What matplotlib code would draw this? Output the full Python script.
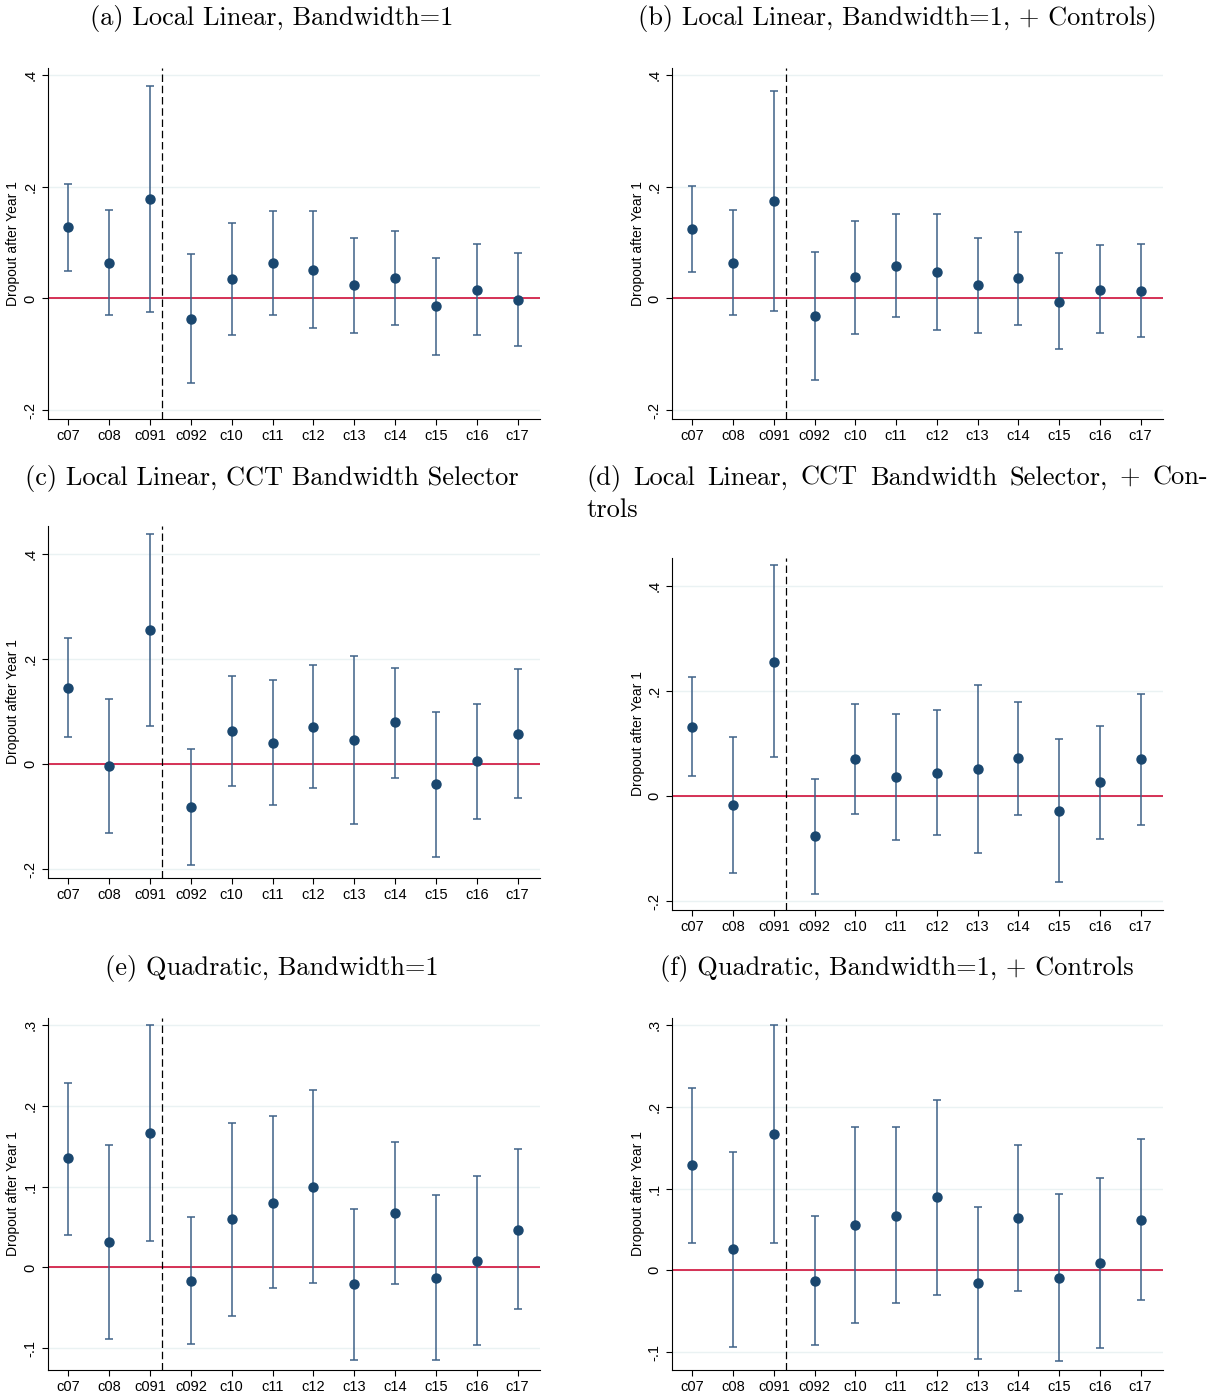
import matplotlib
matplotlib.use("Agg")
from matplotlib import pyplot as plt

plt.rcParams["font.family"] = "Liberation Sans"

cohorts = ["c07", "c08", "c091", "c092", "c10", "c11", "c12", "c13", "c14", "c15", "c16", "c17"]

# (a) Local Linear, Bandwidth=1
est_a = [0.128, 0.064, 0.178, -0.036, 0.034, 0.063, 0.051, 0.024, 0.036, -0.014, 0.016, -0.002]
lo_a = [0.050, -0.030, -0.025, -0.152, -0.066, -0.030, -0.053, -0.062, -0.047, -0.101, -0.066, -0.086]
hi_a = [0.206, 0.159, 0.381, 0.080, 0.136, 0.157, 0.156, 0.109, 0.121, 0.073, 0.097, 0.082]

# (b) Local Linear, Bandwidth=1, + Controls
est_b = [0.125, 0.064, 0.174, -0.031, 0.038, 0.059, 0.048, 0.024, 0.036, -0.006, 0.016, 0.014]
lo_b = [0.047, -0.030, -0.023, -0.146, -0.063, -0.033, -0.057, -0.061, -0.048, -0.091, -0.062, -0.069]
hi_b = [0.202, 0.158, 0.371, 0.084, 0.138, 0.152, 0.152, 0.109, 0.120, 0.081, 0.096, 0.097]

# (c) Local Linear, CCT Bandwidth Selector
est_c = [0.145, -0.004, 0.255, -0.082, 0.063, 0.040, 0.071, 0.045, 0.079, -0.039, 0.005, 0.058]
lo_c = [0.052, -0.131, 0.072, -0.193, -0.041, -0.079, -0.045, -0.114, -0.026, -0.177, -0.104, -0.065]
hi_c = [0.239, 0.124, 0.438, 0.028, 0.168, 0.159, 0.189, 0.205, 0.183, 0.099, 0.114, 0.181]

# (d) Local Linear, CCT Bandwidth Selector, + Controls
est_d = [0.131, -0.017, 0.255, -0.077, 0.070, 0.037, 0.044, 0.051, 0.072, -0.028, 0.026, 0.070]
lo_d = [0.038, -0.146, 0.074, -0.187, -0.034, -0.083, -0.074, -0.109, -0.036, -0.164, -0.082, -0.055]
hi_d = [0.226, 0.113, 0.439, 0.032, 0.175, 0.157, 0.163, 0.211, 0.179, 0.109, 0.134, 0.194]

# (e) Quadratic, Bandwidth=1
est_e = [0.135, 0.032, 0.166, -0.017, 0.060, 0.080, 0.100, -0.021, 0.067, -0.013, 0.008, 0.047]
lo_e = [0.040, -0.088, 0.033, -0.095, -0.060, -0.026, -0.019, -0.115, -0.021, -0.115, -0.096, -0.052]
hi_e = [0.229, 0.152, 0.300, 0.062, 0.179, 0.188, 0.220, 0.072, 0.155, 0.090, 0.113, 0.147]

# (f) Quadratic, Bandwidth=1, + Controls
est_f = [0.129, 0.026, 0.167, -0.013, 0.056, 0.067, 0.090, -0.016, 0.064, -0.009, 0.009, 0.062]
lo_f = [0.034, -0.094, 0.033, -0.091, -0.064, -0.040, -0.030, -0.109, -0.025, -0.111, -0.095, -0.036]
hi_f = [0.223, 0.145, 0.301, 0.066, 0.176, 0.175, 0.209, 0.078, 0.153, 0.093, 0.113, 0.161]

titles = ["(a) Local Linear, Bandwidth=1",
          "(b) Local Linear, Bandwidth=1, + Controls)",
          "(c) Local Linear, CCT Bandwidth Selector",
          "(d) Local Linear, CCT Bandwidth Selector, + Con-",
          "(e) Quadratic, Bandwidth=1",
          "(f) Quadratic, Bandwidth=1, + Controls"]

yticks_lin = [-0.2, 0, 0.2, 0.4]
ylabels_lin = ["-.2", "0", ".2", ".4"]
yticks_quad = [-0.1, 0, 0.1, 0.2, 0.3]
ylabels_quad = ["-.1", "0", ".1", ".2", ".3"]

W, H = 1220, 1393
fig = plt.figure(figsize=(W / 100, H / 100), dpi=100)
TFS = 19

# axes boxes in pixels: left, top, right, bottom
boxes = [(48, 68, 540, 419), (672, 68, 1163, 419),
         (48, 526, 540, 878), (672, 558, 1163, 910),
         (48, 1018, 540, 1370), (672, 1018, 1163, 1370)]
ylims = [(-0.216, 0.413), (-0.216, 0.413),
         (-0.217, 0.453), (-0.217, 0.453),
         (-0.127, 0.309), (-0.122, 0.309)]
title_pos = [(272, 19), (897, 19), (272, 478), (586, 478), (272, 969), (897, 969)]

panels = [(est_a, lo_a, hi_a), (est_b, lo_b, hi_b), (est_c, lo_c, hi_c),
          (est_d, lo_d, hi_d), (est_e, lo_e, hi_e), (est_f, lo_f, hi_f)]

navy = "#1a476f"
bar_col = "#3e6288"
x = list(range(1, len(cohorts) + 1))

for i, (est, lo, hi) in enumerate(panels):
    l, t, r, b = boxes[i]
    ax = fig.add_axes([l / W, 1 - b / H, (r - l) / W, (b - t) / H])
    err = [[e - lo_ for e, lo_ in zip(est, lo)], [h - e for e, h in zip(est, hi)]]
    ax.errorbar(x, est, yerr=err, fmt="none", ecolor=bar_col, elinewidth=1.1,
                capsize=2.6, capthick=1.1, zorder=3)
    ax.plot(x, est, "o", color=navy, ms=6.5, zorder=4)
    ax.axhline(0, color="#d0103a", lw=1.2, zorder=2)
    ax.axvline(3.3, color="black", lw=0.9, ls=(0, (6, 3)), zorder=2)
    ax.set_xlim(0.5, 12.55)
    ax.set_ylim(*ylims[i])
    if i < 4:
        ax.set_yticks(yticks_lin, ylabels_lin)
    else:
        ax.set_yticks(yticks_quad, ylabels_quad)
    ax.set_xticks(x, cohorts)
    ax.tick_params(axis="y", labelrotation=90, labelsize=10.5, length=4, width=0.8)
    ax.tick_params(axis="x", labelsize=10.5, length=4, width=0.8)
    for lab in ax.get_yticklabels():
        lab.set_va("center")
    ax.grid(axis="y", color="#eaf2f3", lw=1.0, zorder=0)
    ax.spines["top"].set_visible(False)
    ax.spines["right"].set_visible(False)
    ax.set_ylabel("Dropout after Year 1", fontsize=10)
    ax.yaxis.set_label_coords(-0.056, 0.5)

    tx, ty = title_pos[i]
    if i == 3:
        # justified first line, spread words across the column width
        words = titles[i].split(" ")
        x0, x1 = 586, 1208
        fig.canvas.draw()
        rend = fig.canvas.get_renderer()
        objs = [fig.text(0, 1 - ty / H, w, family="cmr10", fontsize=TFS,
                         ha="left", va="center") for w in words]
        widths = [o.get_window_extent(rend).width for o in objs]
        gap = (x1 - x0 - sum(widths)) / (len(words) - 1)
        pos = x0
        for o, wd in zip(objs, widths):
            o.set_x(pos / W)
            pos += wd + gap
        fig.text(x0 / W, 1 - 510 / H, "trols", family="cmr10", fontsize=TFS,
                 ha="left", va="center")
    else:
        fig.text(tx / W, 1 - ty / H, titles[i], family="cmr10", fontsize=TFS,
                 ha="center", va="center")

fig.savefig("out.png", dpi=100)
